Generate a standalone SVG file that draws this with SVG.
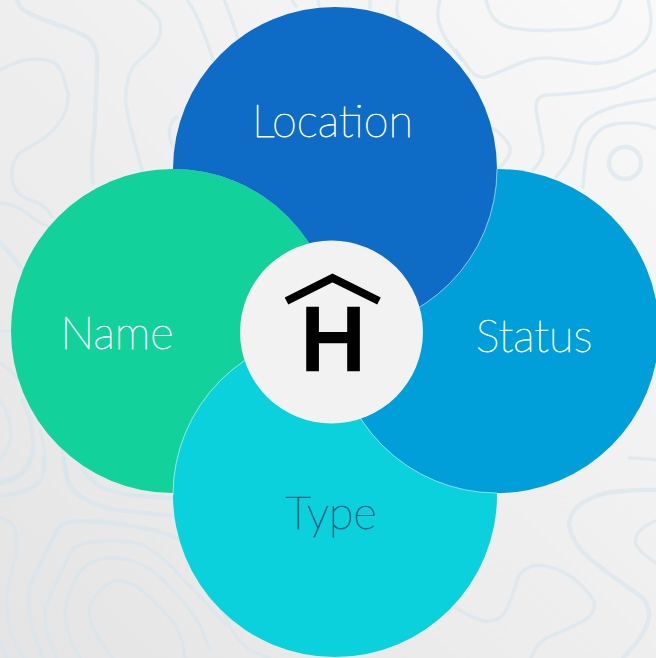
<svg xmlns="http://www.w3.org/2000/svg" width="656" height="658" viewBox="0 0 656 658">
<style>
.c{fill:none;stroke:#d6e6ec;stroke-width:3.5;stroke-linecap:round;stroke-linejoin:round;opacity:.6}
.k{stroke-width:4.5}
.t{font-family:"Lato","Liberation Sans",sans-serif;font-weight:200;font-size:45px;text-anchor:middle;fill:#fff;stroke:#fff;stroke-width:.75}
.d{fill:#1a5f80;stroke:#1a5f80}
.e{fill:none;stroke:#fff;stroke-opacity:.6;stroke-width:.9}
</style>
<defs><linearGradient id="bg" x1="0" y1="1" x2="1" y2="0"><stop offset="0" stop-color="#e4e4e4"/><stop offset="1" stop-color="#f9f9f9"/></linearGradient></defs>
<rect width="656" height="658" fill="url(#bg)"/>
<g id="contours">
<path class="c k" d="M17 0C20 8 23 10 27 12C40 20 55 23 67 28C80 33 87 36 90 40C95 46 97 50 97 57C97 80 96 100 95 117C95 135 92 145 92 160C92 170 92 176 93 183"/>
<path class="c" d="M0 70C12 63 22 59 33 59C45 59 52 60 57 65C63 72 64 80 68 93C69 110 62 120 53 130C45 140 30 146 20 153C13 160 11 168 12 177C13 190 20 197 30 200C42 204 48 208 52 217"/>
<path class="c" d="M138 0C150 8 158 15 160 23C162 30 160 36 157 42C150 52 140 58 133 67C127 78 125 90 126 103C128 125 136 145 142 170"/>
<path class="c" d="M187 0C195 10 202 25 213 60"/>
<path class="c" d="M224 0C230 12 235 30 240 45"/>
<path class="c" d="M177 117C170 122 168 128 170 138C171 142 172 145 173 147"/>
<path class="c" d="M292 0L296 6M318 0L319 5M370 0L370 8"/>
<path class="c" d="M398 0C396 8 396 14 400 20"/>
<path class="c" d="M440 0C435 15 438 28 450 45C456 52 458 55 462 60"/>
<path class="c" d="M486 0C488 8 490 13 493 17C498 24 505 27 513 28C530 31 545 31 556 30C575 30 590 28 596 25C605 23 610 21 613 17C617 12 619 6 621 0"/>
<path class="c" d="M648 0C650 8 651 14 651 20C651 30 648 38 643 43C635 53 625 57 616 60C607 63 598 64 589 63C575 62 562 58 549 58C538 58 530 59 523 62C510 67 498 73 486 77C480 78 476 76 473 73C467 67 462 58 456 50"/>
<path class="c" d="M656 70C642 76 630 82 616 87C595 92 570 94 546 95C539 96 536 100 536 107C537 120 541 135 543 147C544 155 540 163 533 170"/>
<path class="c" d="M656 99C640 101 626 103 613 107C600 111 590 116 583 123C576 131 575 140 573 150C570 160 564 168 556 177"/>
<path class="c" d="M656 128C645 124 637 123 629 123C620 123 610 124 603 128C595 133 591 140 588 147C585 160 584 175 583 187"/>
<circle class="c k" cx="625" cy="163" r="16"/>
<path class="c" d="M493 128C500 134 505 138 508 143C511 148 511 153 508 157C505 162 502 165 499 168"/>
<path class="c" d="M0 203C10 203 20 208 28 214C35 220 42 224 48 226"/>
<path class="c k" d="M0 243C5 247 12 255 24 272"/>
<path class="c" d="M0 331L10 331"/>
<path class="c" d="M0 363C5 365 11 371 17 378"/>
<path class="c" d="M0 400C6 410 11 420 11 432C11 445 6 453 0 460"/>
<path class="c k" d="M22 400C30 415 34 430 33 448C32 465 25 475 12 480C8 482 4 483 0 484"/>
<path class="c" d="M40 430C44 445 46 455 45 470"/>
<path class="c" d="M62 450C65 460 67 470 68 480"/>
<path class="c" d="M30 458C27 466 23 471 17 475C12 478 6 480 0 481"/>
<path class="c k" d="M43 458C44 466 44 472 42 478C39 484 34 487 27 490C18 493 9 495 0 496"/>
<path class="c k" d="M63 458C64 468 65 475 68 481C72 490 77 495 83 498C93 504 105 508 117 510C135 512 155 514 173 516"/>
<path class="c k" d="M82 468C88 477 95 484 103 488C115 493 128 495 140 496C152 497 163 498 173 498"/>
<path class="c" d="M0 518C8 520 13 523 15 530C17 537 18 542 17 548C15 562 10 577 7 591C5 605 7 618 10 631C13 642 18 650 23 658"/>
<path class="c" d="M0 641L7 658"/>
<path class="c k" d="M177 538C162 532 148 528 133 526C115 523 95 521 77 521C67 521 61 524 57 530C48 548 38 568 30 585C27 600 29 616 33 631C36 642 40 650 43 658"/>
<path class="c" d="M225 625C215 610 200 598 173 568C163 558 153 550 143 545C131 541 119 540 107 541C95 541 83 543 73 548C63 568 53 588 45 608C43 625 50 642 57 658"/>
<path class="c" d="M210 650C205 640 203 632 200 625C192 612 183 600 173 591C163 578 153 570 143 565C131 560 119 557 107 558C96 559 87 564 80 571C71 585 66 600 65 615C66 630 72 645 80 658"/>
<path class="c" d="M185 658C184 648 182 638 177 628C168 614 155 602 143 591C135 585 126 581 117 580C107 582 97 592 90 605C88 616 91 626 97 635C102 643 107 650 113 658"/>
<path class="c" d="M225 615C230 628 236 640 250 650C256 653 263 656 270 658"/>
<path class="c k" d="M656 490C640 489 622 491 606 493C593 496 584 501 576 508C571 514 569 519 569 525C571 537 579 549 589 558C606 572 625 585 643 598C648 605 650 611 649 618C646 630 638 642 629 651C627 654 625 656 623 658"/>
<path class="c" d="M656 521C648 524 642 528 638 533C635 537 635 541 636 545C641 552 648 558 656 563"/>
<path class="c" d="M456 608C465 614 474 618 483 621C491 622 498 620 503 615C510 606 514 590 519 575C524 569 531 565 539 565C551 566 563 571 573 578C582 585 589 593 594 601C596 610 591 617 583 621C571 628 558 633 546 638C538 643 534 650 531 658"/>
<path class="c" d="M629 458C638 458 647 459 656 460"/>
</g>
<g id="name"><circle cx="173" cy="331" r="162" fill="#12d19a"/><text class="t" x="117" y="349">Name</text></g>
<g id="type"><circle cx="335" cy="495" r="162" fill="#0bd1dc"/><path class="e" d="M173 495A162 162 0 0 1 335 333"/><text class="t d" x="331" y="529">Type</text></g>
<g id="status"><circle cx="497" cy="331" r="162" fill="#019fd9"/><path class="e" d="M335 331A162 162 0 0 0 497 493"/><text class="t" x="534" y="352">Status</text></g>
<g id="location"><path d="M173 169A162 162 0 1 1 335 331A162 162 0 0 0 173 169Z" fill="#0f6cc6"/><path class="e" d="M497 169A162 162 0 0 1 335 331"/><text class="t" x="332.500" y="137">Location</text></g>
<g id="hub"><circle cx="331.500" cy="332" r="91.500" fill="#f2f2f2"/>
<path d="M286.500 301L332.500 278L379 301" fill="none" stroke="#000" stroke-width="8"/>
<text x="333" y="368.750" font-family="'Liberation Sans',sans-serif" font-size="88" text-anchor="middle" fill="#000" stroke="#000" stroke-width="4.500">H</text></g>
</svg>
